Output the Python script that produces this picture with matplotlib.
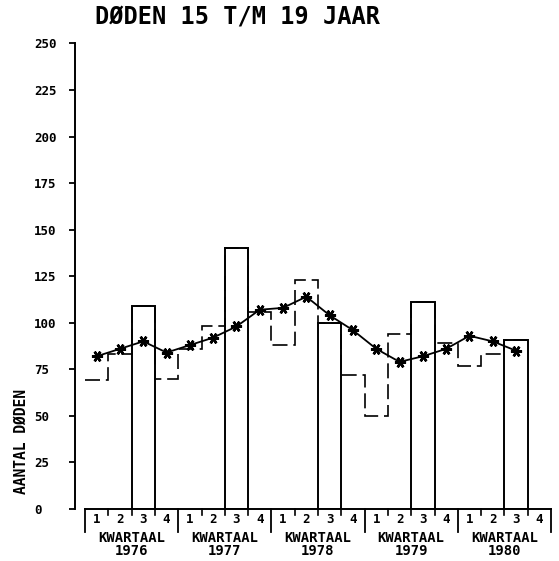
import numpy as np
import matplotlib
matplotlib.use("Agg")
import matplotlib.pyplot as plt

# Quarterly deaths, ages 15-19, 1976 Q1 .. 1980 Q3
years = ["1976", "1977", "1978", "1979", "1980"]
quarter_labels = ["1", "2", "3", "4"]
deaths = [69, 83, 109, 70,
          86, 98, 140, 106,
          88, 123, 100, 72,
          50, 94, 111, 89,
          77, 83, 91]
# Moving average per quarter (marked with asterisks)
moving_avg = [82, 86, 90, 84,
              88, 92, 98, 107,
              108, 114, 104, 96,
              86, 79, 82, 86,
              93, 90, 85]
y_ticks = [0, 25, 50, 75, 100, 125, 150, 175, 200, 225, 250]

FONT = "DejaVu Sans Mono"
W, H = 559, 561
fig = plt.figure(figsize=(W / 100, H / 100), dpi=100)
ax = fig.add_axes([75 / W, 52 / H, 476 / W, (517.6 - 52) / H])

n_q = 20
x0 = -10 / 23.3
ax.set_xlim(x0, n_q)
ax.set_ylim(0, 250)

for s in ["top", "right", "bottom"]:
    ax.spines[s].set_visible(False)
ax.spines["left"].set_linewidth(1.4)
ax.set_xticks([])
ax.set_yticks(y_ticks)
ax.set_yticklabels([str(t) for t in y_ticks], fontfamily=FONT,
                   fontweight="bold", fontsize=9, ha="left")
ax.tick_params(axis="y", direction="out", length=4.5, width=1.3, pad=25)

# dashed step line for all quarters
edges = np.arange(len(deaths) + 1)
ax.stairs(deaths, edges, baseline=None, color="black", lw=1.2,
          linestyle=(0, (9, 3.5)))

# third quarter drawn as an open bar
q3_idx = [i for i in range(len(deaths)) if i % 4 == 2]
ax.bar([i for i in q3_idx], [deaths[i] for i in q3_idx], width=1.0,
       align="edge", fill=False, edgecolor="black", linewidth=1.4)

# moving average
centers = np.arange(len(moving_avg)) + 0.5
ax.plot(centers, moving_avg, color="black", lw=1.3,
        marker=(6, 2, 90), markersize=8, markeredgewidth=1.8)

# x axis drawn as a quarter scale
ax.plot([0, n_q], [0, 0], color="black", lw=1.4, clip_on=False)
for q in range(n_q + 1):
    if q % 4 == 0:
        ax.plot([q, q], [0, -12.5], color="black", lw=1.3, clip_on=False)
    else:
        ax.plot([q, q], [0, -3], color="black", lw=1.2, clip_on=False)
for q in range(n_q):
    ax.text(q + 0.5, -5.8, quarter_labels[q % 4], ha="center", va="center",
            fontfamily=FONT, fontweight="bold", fontsize=9, clip_on=False)
for k, yr in enumerate(years):
    ax.text(4 * k + 2, -15.6, "KWARTAAL", ha="center", va="center",
            fontfamily=FONT, fontweight="bold", fontsize=10, clip_on=False)
    ax.text(4 * k + 2, -22.6, yr, ha="center", va="center",
            fontfamily=FONT, fontweight="bold", fontsize=10, clip_on=False)

fig.text(95 / W, 1 - 17 / H, "DØDEN 15 T/M 19 JAAR", ha="left", va="center",
         fontfamily=FONT, fontweight="bold", fontsize=17)
fig.text(21 / W, 1 - 441 / H, "AANTAL DØDEN", rotation=90, ha="center",
         va="center", fontfamily=FONT, fontweight="bold", fontsize=10.5)

fig.savefig("out.png", dpi=100, facecolor="white")
